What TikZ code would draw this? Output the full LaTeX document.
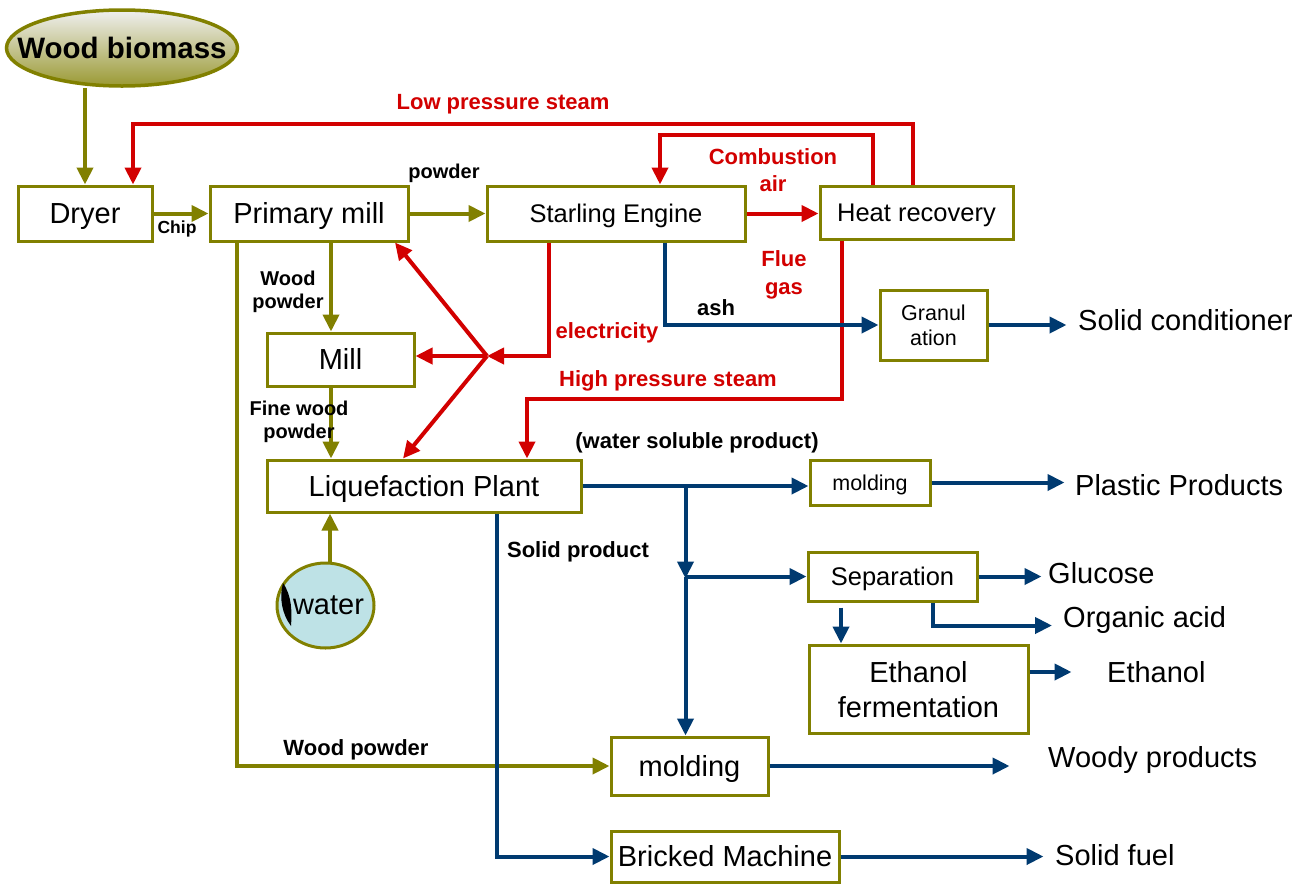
\documentclass[tikz,border=0pt]{standalone}
\usepackage{fontspec}
\setmainfont{Liberation Sans}
\usetikzlibrary{arrows.meta,shapes.geometric}
\definecolor{oliv}{HTML}{818000}
\definecolor{rd}{HTML}{D20000}
\definecolor{nv}{HTML}{003A70}
\definecolor{aqua}{HTML}{BEE2E6}
\newcommand{\fs}[2]{\fontsize{#1}{#2}\selectfont}
\begin{document}
\begin{tikzpicture}[x=1pt,y=-1pt,
  box/.style={draw=oliv, line width=3pt, fill=white, inner sep=0pt, align=center,
              font=\fs{29}{35}, text height=20.8pt, text depth=0pt},
  midbox/.style={box, font=\fs{25.5}{30}, text height=18.3pt},
  smallbox/.style={box, font=\fs{21.5}{25}, text height=15.4pt},
  twoline/.style={text height={}, text depth=0pt},
  tip/.style={-{Triangle[length=17pt,width=16pt]}},
  oarr/.style={draw=oliv, line width=4pt, tip},
  rarr/.style={draw=rd, line width=4pt, tip},
  barr/.style={draw=nv, line width=4pt, tip},
  lbl/.style={font=\bfseries\fs{22}{24}, inner sep=0pt},
  lbls/.style={font=\bfseries\fs{20}{23.5}, inner sep=0pt, align=center},
  rlbl/.style={inner sep=0pt, text=rd, font=\bfseries\fs{22}{27}, align=center},
  prod/.style={font=\fs{29}{34}, inner sep=0pt, anchor=west}]
\useasboundingbox (0,0) rectangle (1306,884);

% raw material
\node[ellipse, draw=oliv, line width=3.5pt, minimum width=231pt, minimum height=76pt,
      top color=gray!12, bottom color=oliv!80!white, inner sep=0pt]
      (wood) at (122,48) {};
\node[font=\bfseries\fs{29.5}{34}, inner sep=0pt] (woodtxt) at (wood.center) {Wood biomass};

% process units
\node[box, minimum width=134pt, minimum height=55pt] (dryer) at (85,213.5) {Dryer};
\node[box, minimum width=198pt, minimum height=55pt] (pmill) at (309,213.5) {Primary mill};
\node[midbox, minimum width=258pt, minimum height=55pt] (steng) at (616,213.5) {Starling Engine};
\node[midbox, minimum width=193pt, minimum height=53pt] (heat) at (916.5,212.5) {Heat recovery};
\node[smallbox, twoline, minimum width=107pt, minimum height=70pt] (gran) at (933.5,325) {Granul\\ation};
\node[box, minimum width=147pt, minimum height=53pt] (mill) at (340.5,359.5) {Mill};
\node[box, minimum width=314pt, minimum height=52pt] (liq) at (424,486) {Liquefaction Plant};
\node[smallbox, minimum width=120pt, minimum height=45pt] (mold1) at (870,482.5) {molding};
\node[midbox, minimum width=169pt, minimum height=49pt] (sep) at (892.5,576.5) {Separation};
\node[box, twoline, minimum width=219pt, minimum height=88pt] (eth) at (918.5,689) {Ethanol\\fermentation};
\node[box, minimum width=157pt, minimum height=58pt] (mold2) at (689.5,766) {molding};
\node[box, minimum width=228pt, minimum height=51pt] (brick) at (725,856.5) {Bricked Machine};

% water feed
\node[ellipse, draw=oliv, line width=3pt, fill=aqua, minimum width=97pt, minimum height=85pt,
      inner sep=0pt] (water) at (325.5,605.5) {};
\node[font=\fs{29}{34}, inner sep=0pt] (watertxt) at ([xshift=3]water.center) {water};
\fill[black] (283,583) .. controls (279,598) and (282,614) .. (291,626)
             .. controls (292,612) and (292,596) .. (283,583);

% material flow (olive)
\draw[oarr] (wood.south -| dryer.north) -- (dryer.north);
\draw[oarr] (dryer.east) -- (pmill.west);
\draw[oarr] (pmill.east) -- (steng.west);
\draw[oarr] ([xshift=22]pmill.south) -- ([xshift=-9.5]mill.north);
\draw[oarr] ([xshift=-9.5]mill.south) -- ([xshift=-93]liq.north);
\draw[oarr] ([xshift=4.5]water.north) -- ([xshift=4.5]water.north |- liq.south);
\draw[oarr] ([xshift=-72]pmill.south) |- (mold2.west);

% energy flow (red)
\coordinate (hub) at (487,356);
\draw[rarr] (steng.east) -- (steng.east -| heat.west);
\draw[rarr] ([xshift=-4]heat.north) -- ++(0,-61) -| ([xshift=48]dryer.north);
\draw[rarr] ([xshift=-44]heat.north) -- ++(0,-50) -| ([xshift=44]steng.north);
\draw[rarr] ([xshift=-75]heat.south) -- ++(0,158) -| ([xshift=103]liq.north);
\draw[rarr] ([xshift=-67]steng.south) |- (hub);
\draw[rarr] (hub) -- (hub -| mill.east);
\draw[rarr] (hub) -- ([xshift=86]pmill.south);
\draw[rarr] (hub) -- ([xshift=-21]liq.north);

% product flow (blue)
\draw[barr] ([xshift=49]steng.south) |- (gran.west);
\draw[barr] (gran.east) -- ++(78,0);
\coordinate (b1) at ([xshift=103]liq.east);
\coordinate (b2) at (b1 |- sep.west);
\draw[barr] (liq.east) -- (liq.east -| mold1.west);
\draw[barr] (b1) -- ([yshift=-2]b2);
\draw[barr] (b2) -- (sep.west);
\draw[barr] (b2) -- (b2 |- mold2.north);
\draw[barr] (mold1.east) -- ++(133,0);
\draw[barr] (sep.east) -- ++(63,0);
\draw[barr] ([xshift=40.5]sep.south) -- ++(0,23) -- ++(119,0);
\draw[barr] ([xshift=-51.5,yshift=-5]sep.south) -- ([xshift=-51.5]sep.south |- eth.north);
\draw[barr] ([yshift=17]eth.east) -- ++(42,0);
\draw[barr] (mold2.east) -- ++(240,0);
\draw[barr] ([xshift=73]liq.south) |- (brick.west);
\draw[barr] (brick.east) -- ++(203,0);

% stream labels
\node[lbl, font=\bfseries\fs{17.5}{20}] (lchip) at (177,229) {Chip};
\node[lbls] (lpow) at (444,173) {powder};
\node[rlbl] (llps) at (503,104) {Low pressure steam};
\node[rlbl] (lcomb) at (773,170) {Combustion\\air};
\node[rlbl, font=\bfseries\fs{22}{28}] (lflue) at (784,275) {Flue\\gas};
\node[lbl] (lash) at (716,308) {ash};
\node[rlbl] (lelec) at (607,333) {electricity};
\node[rlbl] (lhps) at (668,381) {High pressure steam};
\node[lbls] (lwp1) at (288,292) {Wood\\powder};
\node[lbls] (lfwp) at (299,422) {Fine wood\\powder};
\node[lbl] (lws) at (697,443) {(water soluble product)};
\node[lbl] (lsp) at (578,552) {Solid product};
\node[lbl] (lwp2) at (356,750) {Wood powder};

% end products
\node[prod] (psc) at (1078,320) {Solid conditioner};
\node[prod] (ppl) at (1075,485) {Plastic Products};
\node[prod] (pgl) at (1048,573) {Glucose};
\node[prod] (poa) at (1063,620) {Organic acid};
\node[prod] (pet) at (1107,672) {Ethanol};
\node[prod] (pwd) at (1048,760) {Woody products};
\node[prod] (psf) at (1055,855) {Solid fuel};
\end{tikzpicture}
\end{document}
